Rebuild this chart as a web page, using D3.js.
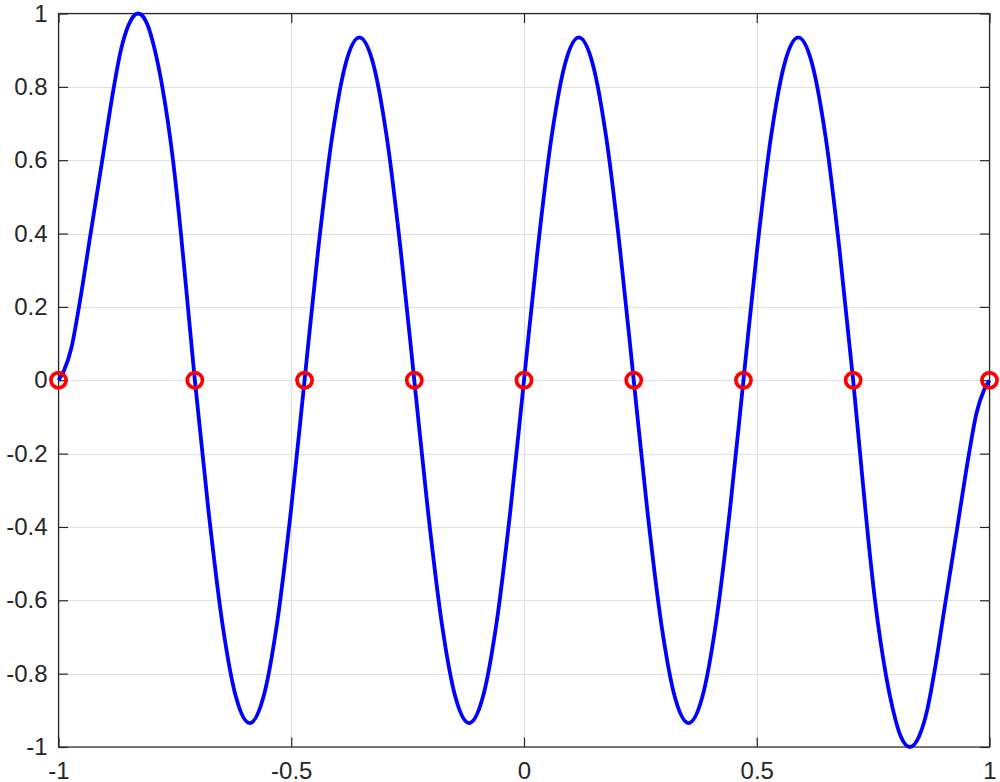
<!DOCTYPE html>
<html>
<head>
<meta charset="utf-8">
<script src="https://cdn.jsdelivr.net/npm/d3@7"></script>
<style>
  html, body { margin: 0; padding: 0; background: #fff; }
  svg { display: block; }
  text { font-family: "Liberation Sans", Arial, Helvetica, sans-serif; fill: #262626; }
</style>
</head>
<body>
<svg id="chart" width="1000" height="782"></svg>
<script>
// ---- data ----
const curveX = [
  -1, -0.988, -0.972, -0.956, -0.931, -0.906, -0.881, -0.866, -0.849, -0.829,
  -0.809, -0.793, -0.777, -0.754, -0.737, -0.722, -0.7071,
  -0.6776, -0.6482, -0.6187, -0.5893, -0.5598, -0.5303, -0.5009, -0.4714,
  -0.4420, -0.4125, -0.3830, -0.3536, -0.3241, -0.2946, -0.2652, -0.2357,
  -0.2062, -0.1768, -0.1473, -0.1179, -0.0884, -0.0589, -0.0295, 0,
  0.0295, 0.0589, 0.0884, 0.1179, 0.1473, 0.1768, 0.2062, 0.2357,
  0.2652, 0.2946, 0.3241, 0.3536, 0.3830, 0.4125, 0.4420, 0.4714,
  0.5009, 0.5303, 0.5598, 0.5893, 0.6187, 0.6482, 0.6776, 0.7071,
  0.722, 0.737, 0.754, 0.777, 0.793, 0.809, 0.829,
  0.849, 0.866, 0.881, 0.906, 0.931, 0.956, 0.972, 0.988, 1
];
const curveY = [
  0, 0.027, 0.09, 0.2, 0.4, 0.6, 0.8, 0.9, 0.97, 1.0,
  0.97, 0.9, 0.8, 0.6, 0.4, 0.2, 0,
  -0.358, -0.661, -0.864, -0.935, -0.864, -0.661, -0.358, 0,
  0.358, 0.661, 0.864, 0.935, 0.864, 0.661, 0.358, 0,
  -0.358, -0.661, -0.864, -0.935, -0.864, -0.661, -0.358, 0,
  0.358, 0.661, 0.864, 0.935, 0.864, 0.661, 0.358, 0,
  -0.358, -0.661, -0.864, -0.935, -0.864, -0.661, -0.358, 0,
  0.358, 0.661, 0.864, 0.935, 0.864, 0.661, 0.358, 0,
  -0.2, -0.4, -0.6, -0.8, -0.9, -0.97, -1.0,
  -0.97, -0.9, -0.8, -0.6, -0.4, -0.2, -0.09, -0.027, 0
];
const markerX = [-1, -0.7071, -0.4714, -0.2357, 0, 0.2357, 0.4714, 0.7071, 1];
const markerY = [0, 0, 0, 0, 0, 0, 0, 0, 0];
const xTicks = [-1, -0.5, 0, 0.5, 1];
const xTickLabels = ["-1", "-0.5", "0", "0.5", "1"];
const yTicks = [-1, -0.8, -0.6, -0.4, -0.2, 0, 0.2, 0.4, 0.6, 0.8, 1];
const yTickLabels = ["-1", "-0.8", "-0.6", "-0.4", "-0.2", "0", "0.2", "0.4", "0.6", "0.8", "1"];

// ---- layout ----
const L = 58.5, R = 989.5, T = 13.5, B = 747;
const tickLen = 9.5;
const svg = d3.select("#chart");

const x = d3.scaleLinear().domain([-1, 1]).range([L, R]);
const y = d3.scaleLinear().domain([-1, 1]).range([B, T]);

// grid
const grid = svg.append("g").attr("stroke", "#dfdfdf").attr("stroke-width", 1);
grid.selectAll("line.gx").data(xTicks).join("line")
  .attr("x1", d => Math.round(x(d)) + 0.5).attr("x2", d => Math.round(x(d)) + 0.5)
  .attr("y1", T).attr("y2", B);
grid.selectAll("line.gy").data(yTicks).join("line")
  .attr("y1", d => Math.round(y(d)) + 0.5).attr("y2", d => Math.round(y(d)) + 0.5)
  .attr("x1", L).attr("x2", R);

// axes via d3 axis (inward ticks), mirrored on all sides
const fmtX = (d, i) => xTickLabels[i];
const fmtY = (d, i) => yTickLabels[i];

const axBottom = svg.append("g").attr("transform", `translate(0,${B})`)
  .call(d3.axisBottom(x).tickValues(xTicks).tickFormat(fmtX).tickSizeInner(-tickLen).tickSizeOuter(0).tickPadding(0));
const axTop = svg.append("g").attr("transform", `translate(0,${T})`)
  .call(d3.axisTop(x).tickValues(xTicks).tickFormat("").tickSizeInner(-tickLen).tickSizeOuter(0));
const axLeft = svg.append("g").attr("transform", `translate(${L},0)`)
  .call(d3.axisLeft(y).tickValues(yTicks).tickFormat(fmtY).tickSizeInner(-tickLen).tickSizeOuter(0).tickPadding(0));
const axRight = svg.append("g").attr("transform", `translate(${R},0)`)
  .call(d3.axisRight(y).tickValues(yTicks).tickFormat("").tickSizeInner(-tickLen).tickSizeOuter(0));

[axBottom, axTop, axLeft, axRight].forEach(g => {
  g.select(".domain").remove();
  g.selectAll(".tick line").attr("stroke", "#262626").attr("stroke-width", 1.2);
});

axBottom.selectAll(".tick text")
  .attr("font-size", 24).attr("fill", "#262626")
  .attr("font-family", '"Liberation Sans", Arial, Helvetica, sans-serif')
  .attr("y", 31.5).attr("dy", 0).attr("text-anchor", "middle");
axLeft.selectAll(".tick text")
  .attr("font-size", 24).attr("fill", "#262626")
  .attr("font-family", '"Liberation Sans", Arial, Helvetica, sans-serif')
  .attr("x", -11).attr("dy", "0.32em").attr("text-anchor", "end");

// box
svg.append("rect")
  .attr("x", L).attr("y", T).attr("width", R - L).attr("height", B - T)
  .attr("fill", "none").attr("stroke", "#262626").attr("stroke-width", 1.2);

// curve
const pts = curveX.map((d, i) => [d, curveY[i]]);
const line = d3.line().x(d => x(d[0])).y(d => y(d[1])).curve(d3.curveMonotoneX);
svg.append("path").datum(pts)
  .attr("d", line)
  .attr("fill", "none").attr("stroke", "#0000ff").attr("stroke-width", 3.8)
  .attr("stroke-linejoin", "round");

// markers
const mk = markerX.map((d, i) => [d, markerY[i]]);
svg.append("g").selectAll("circle").data(mk).join("circle")
  .attr("cx", d => x(d[0])).attr("cy", d => y(d[1])).attr("r", 7.6)
  .attr("fill", "none").attr("stroke", "#ff0000").attr("stroke-width", 3.6);
</script>
</body>
</html>
